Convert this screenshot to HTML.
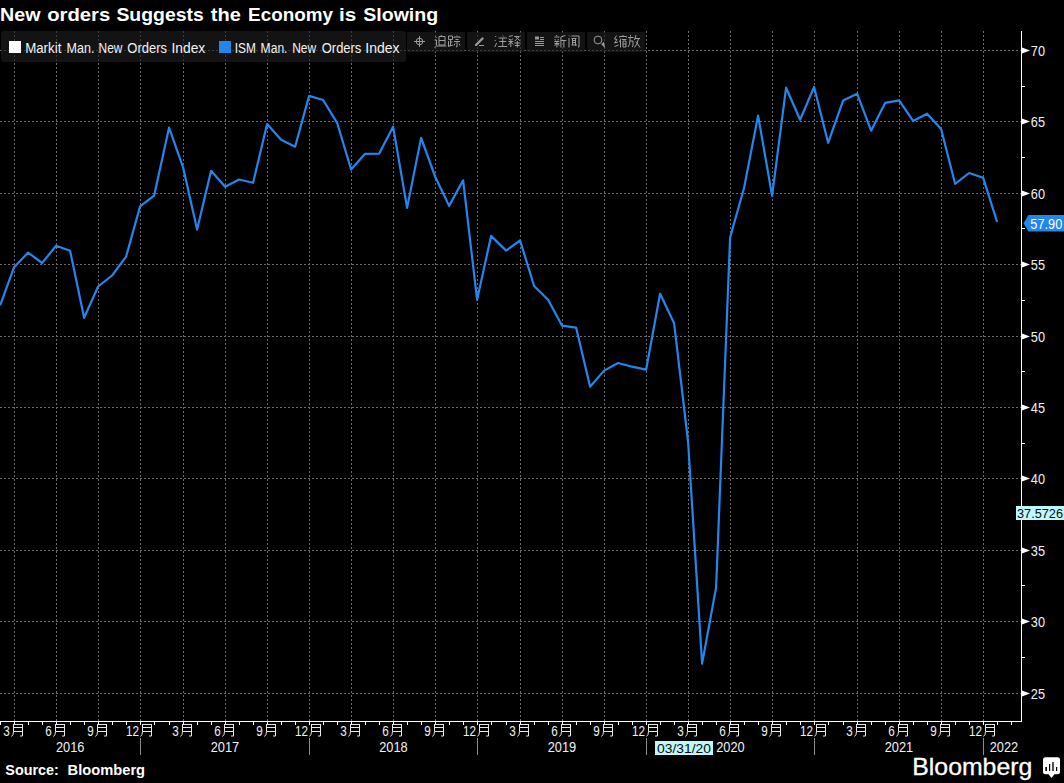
<!DOCTYPE html>
<html><head><meta charset="utf-8"><style>
html,body{margin:0;padding:0;background:#000;width:1064px;height:783px;overflow:hidden}
svg{display:block}
text{font-family:"Liberation Sans",sans-serif}
</style></head><body>
<svg width="1064" height="783" viewBox="0 0 1064 783" shape-rendering="crispEdges">
<rect x="0" y="0" width="1064" height="783" fill="#000"/>

<g stroke="#6a6a6a" stroke-width="1">
<line x1="14.5" y1="31" x2="14.5" y2="721" stroke-dasharray="2 2"/>
<line x1="56.5" y1="31" x2="56.5" y2="721" stroke-dasharray="2 2"/>
<line x1="98.5" y1="31" x2="98.5" y2="721" stroke-dasharray="2 2"/>
<line x1="140.5" y1="31" x2="140.5" y2="721" stroke-dasharray="2 2"/>
<line x1="183.5" y1="31" x2="183.5" y2="721" stroke-dasharray="2 2"/>
<line x1="225.5" y1="31" x2="225.5" y2="721" stroke-dasharray="2 2"/>
<line x1="267.5" y1="31" x2="267.5" y2="721" stroke-dasharray="2 2"/>
<line x1="309.5" y1="31" x2="309.5" y2="721" stroke-dasharray="2 2"/>
<line x1="351.5" y1="31" x2="351.5" y2="721" stroke-dasharray="2 2"/>
<line x1="393.5" y1="31" x2="393.5" y2="721" stroke-dasharray="2 2"/>
<line x1="435.5" y1="31" x2="435.5" y2="721" stroke-dasharray="2 2"/>
<line x1="477.5" y1="31" x2="477.5" y2="721" stroke-dasharray="2 2"/>
<line x1="520.5" y1="31" x2="520.5" y2="721" stroke-dasharray="2 2"/>
<line x1="562.5" y1="31" x2="562.5" y2="721" stroke-dasharray="2 2"/>
<line x1="604.5" y1="31" x2="604.5" y2="721" stroke-dasharray="2 2"/>
<line x1="646.5" y1="31" x2="646.5" y2="721" stroke-dasharray="2 2"/>
<line x1="688.5" y1="31" x2="688.5" y2="721" stroke-dasharray="2 2"/>
<line x1="730.5" y1="31" x2="730.5" y2="721" stroke-dasharray="2 2"/>
<line x1="772.5" y1="31" x2="772.5" y2="721" stroke-dasharray="2 2"/>
<line x1="814.5" y1="31" x2="814.5" y2="721" stroke-dasharray="2 2"/>
<line x1="857.5" y1="31" x2="857.5" y2="721" stroke-dasharray="2 2"/>
<line x1="899.5" y1="31" x2="899.5" y2="721" stroke-dasharray="2 2"/>
<line x1="941.5" y1="31" x2="941.5" y2="721" stroke-dasharray="2 2"/>
<line x1="983.5" y1="31" x2="983.5" y2="721" stroke-dasharray="2 2"/>
<line x1="0" y1="693.5" x2="1021" y2="693.5" stroke-dasharray="2 2"/>
<line x1="0" y1="621.5" x2="1021" y2="621.5" stroke-dasharray="2 2"/>
<line x1="0" y1="550.5" x2="1021" y2="550.5" stroke-dasharray="2 2"/>
<line x1="0" y1="478.5" x2="1021" y2="478.5" stroke-dasharray="2 2"/>
<line x1="0" y1="407.5" x2="1021" y2="407.5" stroke-dasharray="2 2"/>
<line x1="0" y1="336.5" x2="1021" y2="336.5" stroke-dasharray="2 2"/>
<line x1="0" y1="264.5" x2="1021" y2="264.5" stroke-dasharray="2 2"/>
<line x1="0" y1="193.5" x2="1021" y2="193.5" stroke-dasharray="2 2"/>
<line x1="0" y1="121.5" x2="1021" y2="121.5" stroke-dasharray="2 2"/>
<line x1="0" y1="50.5" x2="1021" y2="50.5" stroke-dasharray="2 2"/>
</g>
<rect x="1" y="31" width="405" height="31" rx="3" fill="rgba(30,30,30,0.62)" shape-rendering="auto"/>
<rect x="9" y="41" width="12" height="12" fill="#fff"/>
<g font-size="13.8" fill="#f2f2f2"><text x="25.14" y="53" textLength="36.24" lengthAdjust="spacingAndGlyphs">Markit</text><text x="66.59" y="53" textLength="27.83" lengthAdjust="spacingAndGlyphs">Man.</text><text x="98.54" y="53" textLength="23.83" lengthAdjust="spacingAndGlyphs">New</text><text x="127.36" y="53" textLength="39.70" lengthAdjust="spacingAndGlyphs">Orders</text><text x="171.50" y="53" textLength="33.77" lengthAdjust="spacingAndGlyphs">Index</text><text x="234.74" y="53" textLength="21.12" lengthAdjust="spacingAndGlyphs">ISM</text><text x="260.62" y="53" textLength="26.88" lengthAdjust="spacingAndGlyphs">Man.</text><text x="292.13" y="53" textLength="24.03" lengthAdjust="spacingAndGlyphs">New</text><text x="321.76" y="53" textLength="39.60" lengthAdjust="spacingAndGlyphs">Orders</text><text x="365.39" y="53" textLength="34.19" lengthAdjust="spacingAndGlyphs">Index</text></g>
<rect x="219" y="41" width="12" height="12" fill="#2286ec"/>
<rect x="407" y="32" width="58" height="20" fill="rgba(30,30,30,0.62)"/>
<rect x="467" y="32" width="58" height="20" fill="rgba(30,30,30,0.62)"/>
<rect x="527" y="32" width="58" height="20" fill="rgba(30,30,30,0.62)"/>
<rect x="587" y="32" width="58" height="20" fill="rgba(30,30,30,0.62)"/>
<polyline points="0.10,305.30 14.10,267.20 28.10,252.60 42.10,263.00 56.10,245.80 70.10,250.80 84.10,317.80 98.10,286.50 112.10,275.50 126.10,256.70 140.10,206.40 154.10,195.70 169.10,127.60 183.10,167.50 197.10,229.60 211.10,170.80 225.10,186.80 239.10,179.50 253.10,182.70 267.10,124.10 281.10,139.70 295.10,146.70 309.10,95.90 323.10,100.00 337.10,122.80 351.10,169.50 365.10,153.80 379.10,153.70 393.10,126.70 407.10,207.90 421.10,137.90 435.10,176.50 449.10,205.90 463.10,180.30 477.10,299.80 491.10,235.90 506.10,250.60 520.10,240.50 534.10,286.00 548.10,299.80 562.10,325.70 576.10,327.60 590.10,386.70 604.10,370.60 618.10,363.00 632.10,366.70 646.10,369.70 660.10,293.80 674.10,323.20 688.10,442.00 702.10,663.60 716.10,587.50 730.10,237.50 744.10,187.70 758.10,115.60 772.10,195.80 786.10,87.70 800.10,119.80 814.10,87.00 828.10,142.80 843.10,100.60 857.10,93.70 871.10,130.70 885.10,102.90 899.10,100.40 913.10,120.90 927.10,113.70 941.10,129.00 955.10,183.80 969.10,173.00 983.10,177.70 997.10,222.00" fill="none" stroke="#2286ec" stroke-width="2.2" stroke-linejoin="round" shape-rendering="auto"/>
<rect x="1021" y="31" width="1" height="691" fill="#fff"/>
<rect x="0" y="721" width="1022" height="1" fill="#fff"/>
<polygon points="1022,690.5 1030,693.5 1022,696.5" fill="#fff" shape-rendering="auto"/>
<text x="1030.8" y="699" font-size="14" fill="#f0f0f0" textLength="14.2" lengthAdjust="spacingAndGlyphs">25</text>
<polygon points="1022,618.5 1030,621.5 1022,624.5" fill="#fff" shape-rendering="auto"/>
<text x="1030.8" y="627" font-size="14" fill="#f0f0f0" textLength="14.2" lengthAdjust="spacingAndGlyphs">30</text>
<polygon points="1022,547.5 1030,550.5 1022,553.5" fill="#fff" shape-rendering="auto"/>
<text x="1030.8" y="556" font-size="14" fill="#f0f0f0" textLength="14.2" lengthAdjust="spacingAndGlyphs">35</text>
<polygon points="1022,475.5 1030,478.5 1022,481.5" fill="#fff" shape-rendering="auto"/>
<text x="1030.8" y="484" font-size="14" fill="#f0f0f0" textLength="14.2" lengthAdjust="spacingAndGlyphs">40</text>
<polygon points="1022,404.5 1030,407.5 1022,410.5" fill="#fff" shape-rendering="auto"/>
<text x="1030.8" y="413" font-size="14" fill="#f0f0f0" textLength="14.2" lengthAdjust="spacingAndGlyphs">45</text>
<polygon points="1022,333.5 1030,336.5 1022,339.5" fill="#fff" shape-rendering="auto"/>
<text x="1030.8" y="342" font-size="14" fill="#f0f0f0" textLength="14.2" lengthAdjust="spacingAndGlyphs">50</text>
<polygon points="1022,261.5 1030,264.5 1022,267.5" fill="#fff" shape-rendering="auto"/>
<text x="1030.8" y="270" font-size="14" fill="#f0f0f0" textLength="14.2" lengthAdjust="spacingAndGlyphs">55</text>
<polygon points="1022,190.5 1030,193.5 1022,196.5" fill="#fff" shape-rendering="auto"/>
<text x="1030.8" y="199" font-size="14" fill="#f0f0f0" textLength="14.2" lengthAdjust="spacingAndGlyphs">60</text>
<polygon points="1022,118.5 1030,121.5 1022,124.5" fill="#fff" shape-rendering="auto"/>
<text x="1030.8" y="127" font-size="14" fill="#f0f0f0" textLength="14.2" lengthAdjust="spacingAndGlyphs">65</text>
<polygon points="1022,47.5 1030,50.5 1022,53.5" fill="#fff" shape-rendering="auto"/>
<text x="1030.8" y="56" font-size="14" fill="#f0f0f0" textLength="14.2" lengthAdjust="spacingAndGlyphs">70</text>
<rect x="1022" y="657" width="3" height="1" fill="#fff"/>
<rect x="1022" y="585" width="3" height="1" fill="#fff"/>
<rect x="1022" y="514" width="3" height="1" fill="#fff"/>
<rect x="1022" y="443" width="3" height="1" fill="#fff"/>
<rect x="1022" y="371" width="3" height="1" fill="#fff"/>
<rect x="1022" y="300" width="3" height="1" fill="#fff"/>
<rect x="1022" y="228" width="3" height="1" fill="#fff"/>
<rect x="1022" y="157" width="3" height="1" fill="#fff"/>
<rect x="1022" y="86" width="3" height="1" fill="#fff"/>
<rect x="0" y="722" width="1" height="3" fill="#fff"/>
<rect x="14" y="722" width="1" height="3" fill="#fff"/>
<rect x="28" y="722" width="1" height="3" fill="#fff"/>
<rect x="42" y="722" width="1" height="3" fill="#fff"/>
<rect x="56" y="722" width="1" height="3" fill="#fff"/>
<rect x="70" y="722" width="1" height="3" fill="#fff"/>
<rect x="84" y="722" width="1" height="3" fill="#fff"/>
<rect x="98" y="722" width="1" height="3" fill="#fff"/>
<rect x="112" y="722" width="1" height="3" fill="#fff"/>
<rect x="126" y="722" width="1" height="3" fill="#fff"/>
<rect x="140" y="722" width="1" height="3" fill="#fff"/>
<rect x="154" y="722" width="1" height="3" fill="#fff"/>
<rect x="169" y="722" width="1" height="3" fill="#fff"/>
<rect x="183" y="722" width="1" height="3" fill="#fff"/>
<rect x="197" y="722" width="1" height="3" fill="#fff"/>
<rect x="211" y="722" width="1" height="3" fill="#fff"/>
<rect x="225" y="722" width="1" height="3" fill="#fff"/>
<rect x="239" y="722" width="1" height="3" fill="#fff"/>
<rect x="253" y="722" width="1" height="3" fill="#fff"/>
<rect x="267" y="722" width="1" height="3" fill="#fff"/>
<rect x="281" y="722" width="1" height="3" fill="#fff"/>
<rect x="295" y="722" width="1" height="3" fill="#fff"/>
<rect x="309" y="722" width="1" height="3" fill="#fff"/>
<rect x="323" y="722" width="1" height="3" fill="#fff"/>
<rect x="337" y="722" width="1" height="3" fill="#fff"/>
<rect x="351" y="722" width="1" height="3" fill="#fff"/>
<rect x="365" y="722" width="1" height="3" fill="#fff"/>
<rect x="379" y="722" width="1" height="3" fill="#fff"/>
<rect x="393" y="722" width="1" height="3" fill="#fff"/>
<rect x="407" y="722" width="1" height="3" fill="#fff"/>
<rect x="421" y="722" width="1" height="3" fill="#fff"/>
<rect x="435" y="722" width="1" height="3" fill="#fff"/>
<rect x="449" y="722" width="1" height="3" fill="#fff"/>
<rect x="463" y="722" width="1" height="3" fill="#fff"/>
<rect x="477" y="722" width="1" height="3" fill="#fff"/>
<rect x="491" y="722" width="1" height="3" fill="#fff"/>
<rect x="506" y="722" width="1" height="3" fill="#fff"/>
<rect x="520" y="722" width="1" height="3" fill="#fff"/>
<rect x="534" y="722" width="1" height="3" fill="#fff"/>
<rect x="548" y="722" width="1" height="3" fill="#fff"/>
<rect x="562" y="722" width="1" height="3" fill="#fff"/>
<rect x="576" y="722" width="1" height="3" fill="#fff"/>
<rect x="590" y="722" width="1" height="3" fill="#fff"/>
<rect x="604" y="722" width="1" height="3" fill="#fff"/>
<rect x="618" y="722" width="1" height="3" fill="#fff"/>
<rect x="632" y="722" width="1" height="3" fill="#fff"/>
<rect x="646" y="722" width="1" height="3" fill="#fff"/>
<rect x="660" y="722" width="1" height="3" fill="#fff"/>
<rect x="674" y="722" width="1" height="3" fill="#fff"/>
<rect x="688" y="722" width="1" height="3" fill="#fff"/>
<rect x="702" y="722" width="1" height="3" fill="#fff"/>
<rect x="716" y="722" width="1" height="3" fill="#fff"/>
<rect x="730" y="722" width="1" height="3" fill="#fff"/>
<rect x="744" y="722" width="1" height="3" fill="#fff"/>
<rect x="758" y="722" width="1" height="3" fill="#fff"/>
<rect x="772" y="722" width="1" height="3" fill="#fff"/>
<rect x="786" y="722" width="1" height="3" fill="#fff"/>
<rect x="800" y="722" width="1" height="3" fill="#fff"/>
<rect x="814" y="722" width="1" height="3" fill="#fff"/>
<rect x="828" y="722" width="1" height="3" fill="#fff"/>
<rect x="843" y="722" width="1" height="3" fill="#fff"/>
<rect x="857" y="722" width="1" height="3" fill="#fff"/>
<rect x="871" y="722" width="1" height="3" fill="#fff"/>
<rect x="885" y="722" width="1" height="3" fill="#fff"/>
<rect x="899" y="722" width="1" height="3" fill="#fff"/>
<rect x="913" y="722" width="1" height="3" fill="#fff"/>
<rect x="927" y="722" width="1" height="3" fill="#fff"/>
<rect x="941" y="722" width="1" height="3" fill="#fff"/>
<rect x="955" y="722" width="1" height="3" fill="#fff"/>
<rect x="969" y="722" width="1" height="3" fill="#fff"/>
<rect x="983" y="722" width="1" height="3" fill="#fff"/>
<rect x="997" y="722" width="1" height="3" fill="#fff"/>
<rect x="1011" y="722" width="1" height="3" fill="#fff"/>
<text x="3.25" y="736" font-size="14.5" fill="#f0f0f0" textLength="6.5" lengthAdjust="spacingAndGlyphs">3</text>
<path d="M13.5 724.0 V731.5 Q13.5 735.0 11.5 736.5 M13.5 724.5 H22.5 M13.5 727.5 H22.5 M13.5 731.5 H22.5 M22.5 724.0 V736.0 H20.0" fill="none" stroke="#e8e8e8" stroke-width="1" shape-rendering="auto"/>
<text x="45.25" y="736" font-size="14.5" fill="#f0f0f0" textLength="6.5" lengthAdjust="spacingAndGlyphs">6</text>
<path d="M55.5 724.0 V731.5 Q55.5 735.0 53.5 736.5 M55.5 724.5 H64.5 M55.5 727.5 H64.5 M55.5 731.5 H64.5 M64.5 724.0 V736.0 H62.0" fill="none" stroke="#e8e8e8" stroke-width="1" shape-rendering="auto"/>
<text x="87.25" y="736" font-size="14.5" fill="#f0f0f0" textLength="6.5" lengthAdjust="spacingAndGlyphs">9</text>
<path d="M97.5 724.0 V731.5 Q97.5 735.0 95.5 736.5 M97.5 724.5 H106.5 M97.5 727.5 H106.5 M97.5 731.5 H106.5 M106.5 724.0 V736.0 H104.0" fill="none" stroke="#e8e8e8" stroke-width="1" shape-rendering="auto"/>
<text x="126.00" y="736" font-size="14.5" fill="#f0f0f0" textLength="13.0" lengthAdjust="spacingAndGlyphs">12</text>
<path d="M142.5 724.0 V731.5 Q142.5 735.0 140.5 736.5 M142.5 724.5 H151.5 M142.5 727.5 H151.5 M142.5 731.5 H151.5 M151.5 724.0 V736.0 H149.0" fill="none" stroke="#e8e8e8" stroke-width="1" shape-rendering="auto"/>
<text x="172.25" y="736" font-size="14.5" fill="#f0f0f0" textLength="6.5" lengthAdjust="spacingAndGlyphs">3</text>
<path d="M182.5 724.0 V731.5 Q182.5 735.0 180.5 736.5 M182.5 724.5 H191.5 M182.5 727.5 H191.5 M182.5 731.5 H191.5 M191.5 724.0 V736.0 H189.0" fill="none" stroke="#e8e8e8" stroke-width="1" shape-rendering="auto"/>
<text x="214.25" y="736" font-size="14.5" fill="#f0f0f0" textLength="6.5" lengthAdjust="spacingAndGlyphs">6</text>
<path d="M224.5 724.0 V731.5 Q224.5 735.0 222.5 736.5 M224.5 724.5 H233.5 M224.5 727.5 H233.5 M224.5 731.5 H233.5 M233.5 724.0 V736.0 H231.0" fill="none" stroke="#e8e8e8" stroke-width="1" shape-rendering="auto"/>
<text x="256.25" y="736" font-size="14.5" fill="#f0f0f0" textLength="6.5" lengthAdjust="spacingAndGlyphs">9</text>
<path d="M266.5 724.0 V731.5 Q266.5 735.0 264.5 736.5 M266.5 724.5 H275.5 M266.5 727.5 H275.5 M266.5 731.5 H275.5 M275.5 724.0 V736.0 H273.0" fill="none" stroke="#e8e8e8" stroke-width="1" shape-rendering="auto"/>
<text x="295.00" y="736" font-size="14.5" fill="#f0f0f0" textLength="13.0" lengthAdjust="spacingAndGlyphs">12</text>
<path d="M311.5 724.0 V731.5 Q311.5 735.0 309.5 736.5 M311.5 724.5 H320.5 M311.5 727.5 H320.5 M311.5 731.5 H320.5 M320.5 724.0 V736.0 H318.0" fill="none" stroke="#e8e8e8" stroke-width="1" shape-rendering="auto"/>
<text x="340.25" y="736" font-size="14.5" fill="#f0f0f0" textLength="6.5" lengthAdjust="spacingAndGlyphs">3</text>
<path d="M350.5 724.0 V731.5 Q350.5 735.0 348.5 736.5 M350.5 724.5 H359.5 M350.5 727.5 H359.5 M350.5 731.5 H359.5 M359.5 724.0 V736.0 H357.0" fill="none" stroke="#e8e8e8" stroke-width="1" shape-rendering="auto"/>
<text x="382.25" y="736" font-size="14.5" fill="#f0f0f0" textLength="6.5" lengthAdjust="spacingAndGlyphs">6</text>
<path d="M392.5 724.0 V731.5 Q392.5 735.0 390.5 736.5 M392.5 724.5 H401.5 M392.5 727.5 H401.5 M392.5 731.5 H401.5 M401.5 724.0 V736.0 H399.0" fill="none" stroke="#e8e8e8" stroke-width="1" shape-rendering="auto"/>
<text x="424.25" y="736" font-size="14.5" fill="#f0f0f0" textLength="6.5" lengthAdjust="spacingAndGlyphs">9</text>
<path d="M434.5 724.0 V731.5 Q434.5 735.0 432.5 736.5 M434.5 724.5 H443.5 M434.5 727.5 H443.5 M434.5 731.5 H443.5 M443.5 724.0 V736.0 H441.0" fill="none" stroke="#e8e8e8" stroke-width="1" shape-rendering="auto"/>
<text x="463.00" y="736" font-size="14.5" fill="#f0f0f0" textLength="13.0" lengthAdjust="spacingAndGlyphs">12</text>
<path d="M479.5 724.0 V731.5 Q479.5 735.0 477.5 736.5 M479.5 724.5 H488.5 M479.5 727.5 H488.5 M479.5 731.5 H488.5 M488.5 724.0 V736.0 H486.0" fill="none" stroke="#e8e8e8" stroke-width="1" shape-rendering="auto"/>
<text x="509.25" y="736" font-size="14.5" fill="#f0f0f0" textLength="6.5" lengthAdjust="spacingAndGlyphs">3</text>
<path d="M519.5 724.0 V731.5 Q519.5 735.0 517.5 736.5 M519.5 724.5 H528.5 M519.5 727.5 H528.5 M519.5 731.5 H528.5 M528.5 724.0 V736.0 H526.0" fill="none" stroke="#e8e8e8" stroke-width="1" shape-rendering="auto"/>
<text x="551.25" y="736" font-size="14.5" fill="#f0f0f0" textLength="6.5" lengthAdjust="spacingAndGlyphs">6</text>
<path d="M561.5 724.0 V731.5 Q561.5 735.0 559.5 736.5 M561.5 724.5 H570.5 M561.5 727.5 H570.5 M561.5 731.5 H570.5 M570.5 724.0 V736.0 H568.0" fill="none" stroke="#e8e8e8" stroke-width="1" shape-rendering="auto"/>
<text x="593.25" y="736" font-size="14.5" fill="#f0f0f0" textLength="6.5" lengthAdjust="spacingAndGlyphs">9</text>
<path d="M603.5 724.0 V731.5 Q603.5 735.0 601.5 736.5 M603.5 724.5 H612.5 M603.5 727.5 H612.5 M603.5 731.5 H612.5 M612.5 724.0 V736.0 H610.0" fill="none" stroke="#e8e8e8" stroke-width="1" shape-rendering="auto"/>
<text x="632.00" y="736" font-size="14.5" fill="#f0f0f0" textLength="13.0" lengthAdjust="spacingAndGlyphs">12</text>
<path d="M648.5 724.0 V731.5 Q648.5 735.0 646.5 736.5 M648.5 724.5 H657.5 M648.5 727.5 H657.5 M648.5 731.5 H657.5 M657.5 724.0 V736.0 H655.0" fill="none" stroke="#e8e8e8" stroke-width="1" shape-rendering="auto"/>
<text x="677.25" y="736" font-size="14.5" fill="#f0f0f0" textLength="6.5" lengthAdjust="spacingAndGlyphs">3</text>
<path d="M687.5 724.0 V731.5 Q687.5 735.0 685.5 736.5 M687.5 724.5 H696.5 M687.5 727.5 H696.5 M687.5 731.5 H696.5 M696.5 724.0 V736.0 H694.0" fill="none" stroke="#e8e8e8" stroke-width="1" shape-rendering="auto"/>
<text x="719.25" y="736" font-size="14.5" fill="#f0f0f0" textLength="6.5" lengthAdjust="spacingAndGlyphs">6</text>
<path d="M729.5 724.0 V731.5 Q729.5 735.0 727.5 736.5 M729.5 724.5 H738.5 M729.5 727.5 H738.5 M729.5 731.5 H738.5 M738.5 724.0 V736.0 H736.0" fill="none" stroke="#e8e8e8" stroke-width="1" shape-rendering="auto"/>
<text x="761.25" y="736" font-size="14.5" fill="#f0f0f0" textLength="6.5" lengthAdjust="spacingAndGlyphs">9</text>
<path d="M771.5 724.0 V731.5 Q771.5 735.0 769.5 736.5 M771.5 724.5 H780.5 M771.5 727.5 H780.5 M771.5 731.5 H780.5 M780.5 724.0 V736.0 H778.0" fill="none" stroke="#e8e8e8" stroke-width="1" shape-rendering="auto"/>
<text x="800.00" y="736" font-size="14.5" fill="#f0f0f0" textLength="13.0" lengthAdjust="spacingAndGlyphs">12</text>
<path d="M816.5 724.0 V731.5 Q816.5 735.0 814.5 736.5 M816.5 724.5 H825.5 M816.5 727.5 H825.5 M816.5 731.5 H825.5 M825.5 724.0 V736.0 H823.0" fill="none" stroke="#e8e8e8" stroke-width="1" shape-rendering="auto"/>
<text x="846.25" y="736" font-size="14.5" fill="#f0f0f0" textLength="6.5" lengthAdjust="spacingAndGlyphs">3</text>
<path d="M856.5 724.0 V731.5 Q856.5 735.0 854.5 736.5 M856.5 724.5 H865.5 M856.5 727.5 H865.5 M856.5 731.5 H865.5 M865.5 724.0 V736.0 H863.0" fill="none" stroke="#e8e8e8" stroke-width="1" shape-rendering="auto"/>
<text x="888.25" y="736" font-size="14.5" fill="#f0f0f0" textLength="6.5" lengthAdjust="spacingAndGlyphs">6</text>
<path d="M898.5 724.0 V731.5 Q898.5 735.0 896.5 736.5 M898.5 724.5 H907.5 M898.5 727.5 H907.5 M898.5 731.5 H907.5 M907.5 724.0 V736.0 H905.0" fill="none" stroke="#e8e8e8" stroke-width="1" shape-rendering="auto"/>
<text x="930.25" y="736" font-size="14.5" fill="#f0f0f0" textLength="6.5" lengthAdjust="spacingAndGlyphs">9</text>
<path d="M940.5 724.0 V731.5 Q940.5 735.0 938.5 736.5 M940.5 724.5 H949.5 M940.5 727.5 H949.5 M940.5 731.5 H949.5 M949.5 724.0 V736.0 H947.0" fill="none" stroke="#e8e8e8" stroke-width="1" shape-rendering="auto"/>
<text x="969.00" y="736" font-size="14.5" fill="#f0f0f0" textLength="13.0" lengthAdjust="spacingAndGlyphs">12</text>
<path d="M985.5 724.0 V731.5 Q985.5 735.0 983.5 736.5 M985.5 724.5 H994.5 M985.5 727.5 H994.5 M985.5 731.5 H994.5 M994.5 724.0 V736.0 H992.0" fill="none" stroke="#e8e8e8" stroke-width="1" shape-rendering="auto"/>
<rect x="140" y="738" width="1" height="17" fill="#8c8c8c"/>
<rect x="309" y="738" width="1" height="17" fill="#8c8c8c"/>
<rect x="477" y="738" width="1" height="17" fill="#8c8c8c"/>
<rect x="646" y="738" width="1" height="17" fill="#8c8c8c"/>
<rect x="814" y="738" width="1" height="17" fill="#8c8c8c"/>
<rect x="983" y="738" width="1" height="17" fill="#8c8c8c"/>
<text x="70.2" y="752" font-size="14" fill="#f0f0f0" text-anchor="middle" textLength="28.5" lengthAdjust="spacingAndGlyphs">2016</text>
<text x="225.0" y="752" font-size="14" fill="#f0f0f0" text-anchor="middle" textLength="28.5" lengthAdjust="spacingAndGlyphs">2017</text>
<text x="393.5" y="752" font-size="14" fill="#f0f0f0" text-anchor="middle" textLength="28.5" lengthAdjust="spacingAndGlyphs">2018</text>
<text x="562.0" y="752" font-size="14" fill="#f0f0f0" text-anchor="middle" textLength="28.5" lengthAdjust="spacingAndGlyphs">2019</text>
<text x="730.5" y="752" font-size="14" fill="#f0f0f0" text-anchor="middle" textLength="28.5" lengthAdjust="spacingAndGlyphs">2020</text>
<text x="899.0" y="752" font-size="14" fill="#f0f0f0" text-anchor="middle" textLength="28.5" lengthAdjust="spacingAndGlyphs">2021</text>
<text x="1004.0" y="752" font-size="14" fill="#f0f0f0" text-anchor="middle" textLength="28.5" lengthAdjust="spacingAndGlyphs">2022</text>
<rect x="655" y="741" width="58" height="14" fill="#bef8fa"/>
<text x="657" y="753" font-size="13.5" fill="#0a0a0a" textLength="54" lengthAdjust="spacingAndGlyphs">03/31/20</text>
<rect x="1016" y="506" width="48" height="14" fill="#bef8fa"/>
<text x="1017" y="518" font-size="13.2" fill="#0a0a0a" textLength="46" lengthAdjust="spacingAndGlyphs">37.5726</text>
<polygon points="1023.5,223.3 1028.5,215 1064,215 1064,231.5 1028.5,231.5" fill="#2286ec" shape-rendering="auto"/>
<text x="1030.3" y="229.2" font-size="14" fill="#fff" textLength="32" lengthAdjust="spacingAndGlyphs">57.90</text>
<text x="0.08" y="20.7" font-size="17.6" font-weight="bold" fill="#fff" textLength="40.43" lengthAdjust="spacingAndGlyphs">New</text><text x="47.15" y="20.7" font-size="17.6" font-weight="bold" fill="#fff" textLength="63.03" lengthAdjust="spacingAndGlyphs">orders</text><text x="116.40" y="20.7" font-size="17.6" font-weight="bold" fill="#fff" textLength="87.43" lengthAdjust="spacingAndGlyphs">Suggests</text><text x="210.80" y="20.7" font-size="17.6" font-weight="bold" fill="#fff" textLength="30.04" lengthAdjust="spacingAndGlyphs">the</text><text x="248.13" y="20.7" font-size="17.6" font-weight="bold" fill="#fff" textLength="84.99" lengthAdjust="spacingAndGlyphs">Economy</text><text x="339.02" y="20.7" font-size="17.6" font-weight="bold" fill="#fff" textLength="17.29" lengthAdjust="spacingAndGlyphs">is</text><text x="363.19" y="20.7" font-size="17.6" font-weight="bold" fill="#fff" textLength="75.00" lengthAdjust="spacingAndGlyphs">Slowing</text>
<text x="5.3" y="775" font-size="14.2" font-weight="bold" fill="#fff" textLength="53.5" lengthAdjust="spacingAndGlyphs">Source:</text>
<text x="67.6" y="775" font-size="14.2" font-weight="bold" fill="#fff" textLength="77.5" lengthAdjust="spacingAndGlyphs">Bloomberg</text>
<text x="912.3" y="775.3" font-size="23.8" fill="#fff" stroke="#fff" stroke-width="0.3" textLength="120" lengthAdjust="spacingAndGlyphs">Bloomberg</text>
<path d="M1045.5 757.3 H1057.5 Q1060 757.3 1060 759.8 V771.8 Q1060 774.3 1057.5 774.3 H1054.5 L1051.5 778 L1048.5 774.3 H1045.5 Q1043 774.3 1043 771.8 V759.8 Q1043 757.3 1045.5 757.3 Z" fill="#fff" shape-rendering="auto"/>
<g shape-rendering="auto"><rect x="1045.3" y="767" width="1.7" height="4" fill="#111"/><rect x="1049" y="764" width="1.2" height="7" fill="#000"/><rect x="1052.1" y="762" width="1.7" height="9" fill="#333"/><rect x="1056" y="767" width="1.2" height="4" fill="#000"/></g>
<g fill="none" stroke="#9a9a9a" stroke-width="1" shape-rendering="auto">
<circle cx="419.5" cy="41.5" r="3.3"/><path d="M414 41.5 H425 M419.5 36 V47"/>
<path d="M476 45 L482.5 38.5" stroke-width="2.4" stroke-linecap="round"/><path d="M479 45.5 H484"/>
<rect x="535" y="36.5" width="4" height="3" fill="#9a9a9a" stroke="none"/><path d="M540 37.5 H544 M540 39.5 H544 M535 41.5 H544 M535 43.5 H544 M535 45.5 H544" stroke-width="1"/>
<circle cx="598" cy="40" r="3.9"/><path d="M601.2 44.2 L603.8 41.8 L605.2 48.2 Z" fill="#9a9a9a" stroke="none"/>
</g>
<g fill="none" stroke="#a4a4a4" stroke-width="0.95" shape-rendering="auto">
<path transform="translate(434 35)" d="M1.5 1.5 L2.5 3 M0.5 5 H2.5 V10.5 M0.5 12.5 L2.5 11 H12.5 M7 0 L7.5 1 M5 1.5 H11 V10 H5 Z M5 5.5 H11"/>
<path transform="translate(447.5 35)" d="M1 1 H5 V4.5 H1 Z M3 4.5 V11 M3 7 H5 M0.5 11.5 L5.5 10 M1 6 V11 M9.5 0.5 V1.5 M6.5 3 V2 H12.5 V3 M8 4.5 H11 M6.5 6.5 H12.5 M9.5 6.5 V12 L8.5 11.5 M7.5 8.5 L6.5 10.5 M11.5 8.5 L12.5 10.5"/>
<path transform="translate(494.2 35)" d="M1 1 L2 2 M0.5 5 L1.5 6 M0.5 12 L2.5 8 M8.5 0.5 L9.5 1.5 M4.5 3 H12.5 M5 6.5 H12 M8.5 3 V11.5 M4 11.5 H13"/>
<path transform="translate(507.8 35)" d="M1 1.5 L5 0.5 M1 3.5 L2 5 M5 3.5 L4 5 M0.5 6.5 H5.5 M3 4 V12 M3 7 L0.5 10 M3 7 L5.5 9.5 M6.5 1.5 H11.5 L7 6 M7.5 1.5 L12.5 6 M6.5 8 H12.5 M7 10.5 H12 M9.5 6 V12.5"/>
<path transform="translate(553.9 35)" d="M2.5 0 L3 1 M0.5 2 H5.5 M1 4 L1.5 5.5 M4.5 4 L4 5.5 M0.5 6.5 H5.5 M3 6.5 V12.5 M0.5 8.5 H5.5 M3 8.5 L0.5 11 M3 8.5 L5.5 10.5 M11.5 0.5 L7 2 V12.5 M7 5.5 H12.5 M10 5.5 V12.5"/>
<path transform="translate(567.5 35)" d="M1.5 0.5 L2.5 1.5 M1.5 3 V12.5 M4 1 H11.5 V12 L10.5 12 M4 3.5 H9 M5 3.5 V10 M8 3.5 V10.5 M5 5.5 H8 M5 7.5 H8 M4 10 H9.5"/>
<path transform="translate(614 35)" d="M2.5 0.5 L0.5 4 L3 4.5 L0.5 8 L4 7 M0.5 11.5 L4.5 10 M9 0 V1 M5.5 2.5 V1.5 H12.5 V2.5 M7 3.5 L5.5 7 M6.5 5 V12.5 M8 4.5 H12.5 M9 6 H12 V12 H9 Z M9 9 H12"/>
<path transform="translate(627.5 35)" d="M3 0 V1.5 M0.5 2.5 H6 M2.5 2.5 V5 Q2.5 10 0.5 12 M2.5 6 H5.5 V11 L4.5 12 M8.5 0 L7 5 M7.5 3.5 H12.5 M11 3.5 Q10 9 7 12.5 M8.5 6.5 L12.5 12.5"/>
</g>
</svg>
</body></html>
